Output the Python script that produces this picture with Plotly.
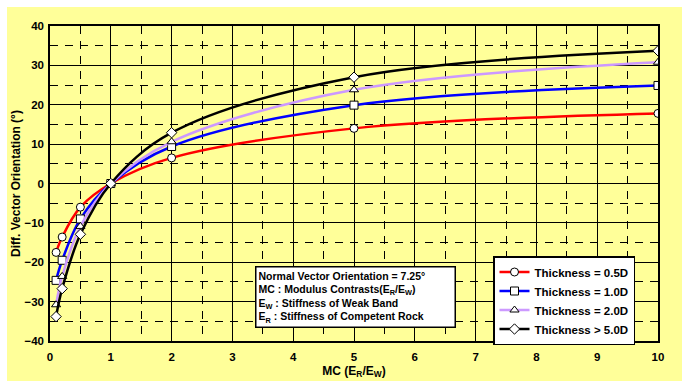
import plotly.graph_objects as go

mc = [0.1, 0.2, 0.5, 1, 2, 5, 10]
t05 = [-17.5, -13.6, -6.0, 0, 6.5, 14.0, 17.8]
t10 = [-24.6, -19.5, -9.0, 0, 9.4, 19.9, 24.9]
t20 = [-30.8, -23.6, -10.9, 0, 10.6, 23.8, 30.8]
t50 = [-33.8, -26.7, -12.9, 0, 12.9, 27.0, 33.7]
names = ["Thickness = 0.5D", "Thickness = 1.0D", "Thickness = 2.0D", "Thickness > 5.0D"]
colors = ["#FF0000", "#0000FF", "#CC99FF", "#000000"]
symbols = ["circle", "square", "triangle-up", "diamond"]
series = [t05, t10, t20, t50]

YEL = "#FFFF99"
FONT = "Liberation Sans, Arial, sans-serif"

fig = go.Figure()
for s, n, c, m in zip(series, names, colors, symbols):
    fig.add_trace(go.Scatter(
        x=mc, y=s, name=n, mode="lines+markers",
        line=dict(color=c, width=2.5, shape="spline"),
        marker=dict(symbol=m, size=8, color="white", line=dict(color="black", width=1)),
    ))

L, R, T, B = 50, 24, 26, 40
W, H = 682, 381
pw, ph = W - L - R, H - T - B

def px(x):
    return (x - L) / pw

def py(y):
    return (H - B - y) / ph

fig.add_shape(type="rect", xref="paper", yref="paper",
              x0=px(7), x1=px(690), y0=py(390), y1=py(7),
              fillcolor=YEL, line=dict(width=0), layer="below")

axis_common = dict(
    showline=True, linecolor="black", linewidth=1.5, mirror=True,
    showgrid=True, gridcolor="black", gridwidth=1, automargin=False,
    zeroline=False, ticks="", tickfont=dict(size=11.5, color="black", family=FONT, weight="bold"),
)
fig.update_xaxes(range=[0, 10], dtick=1, tick0=0, ticklabelstandoff=4,
                 minor=dict(dtick=0.5, showgrid=True, gridcolor="black", griddash="8px,7px", gridwidth=1),
                 title=dict(text="MC (E<sub>R</sub>/E<sub>W</sub>)", font=dict(size=12, family=FONT, weight="bold", color="black"), standoff=5),
                 **axis_common)
fig.update_yaxes(range=[-40, 40], dtick=10, tick0=0, ticklabelstandoff=2,
                 minor=dict(dtick=5, showgrid=True, gridcolor="black", griddash="8px,7px", gridwidth=1),
                 title=dict(text="Diff. Vector Orientation (°)", font=dict(size=12, family=FONT, weight="bold", color="black"), standoff=1),
                 **axis_common)

fig.add_annotation(
    xref="paper", yref="paper", x=px(255), y=py(266), xanchor="left", yanchor="top",
    text=("Normal Vector Orientation = 7.25°<br>"
          "MC : Modulus Contrasts(E<sub>R</sub>/E<sub>W</sub>)<br>"
          "E<sub>W</sub> : Stiffness of Weak Band<br>"
          "E<sub>R</sub> : Stiffness of Competent Rock"),
    align="left", showarrow=False, bgcolor="white", bordercolor="black", borderwidth=1.5,
    borderpad=2, width=194, font=dict(size=10.5, family=FONT, weight="bold", color="black"),
)

fig.update_layout(
    width=W, height=H, margin=dict(l=L, r=R, t=T, b=B),
    paper_bgcolor="white", plot_bgcolor=YEL,
    font=dict(family=FONT, color="black"),
    legend=dict(x=px(493), y=py(256), xanchor="left", yanchor="top",
                bgcolor="white", bordercolor="black", borderwidth=1.5,
                font=dict(size=11.5, family=FONT, weight="bold", color="black"),
                tracegroupgap=0, itemwidth=30),
    showlegend=True,
)

fig.write_html("out.html")
